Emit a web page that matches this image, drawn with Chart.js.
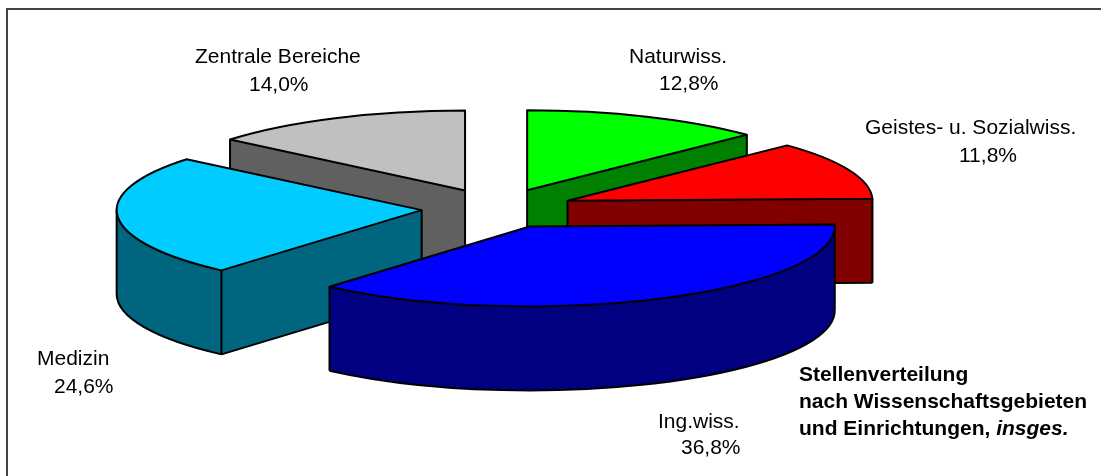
<!DOCTYPE html>
<html><head><meta charset="utf-8">
<script src="https://cdn.jsdelivr.net/npm/chart.js@4"></script>
<style>html,body{margin:0;padding:0;background:#fff}canvas{display:block}</style>
</head><body><canvas id="c" width="1101" height="476"></canvas>
<script>
const categories = ['Naturwiss.', 'Geistes- u. Sozialwiss.', 'Ing.wiss.', 'Medizin', 'Zentrale Bereiche'];
const values = [12.8, 11.8, 36.8, 24.6, 14.0];
const valueLabels = ['12,8%', '11,8%', '36,8%', '24,6%', '14,0%'];
const topColors = ['#00FF00', '#FF0000', '#0000FF', '#00CCFF', '#C0C0C0'];
const sideColors = ['#008000', '#800000', '#000080', '#006680', '#606060'];
const titleLines = ['Stellenverteilung', 'nach Wissenschaftsgebieten', 'und Einrichtungen, '];
const titleItalic = 'insges.';

// layout
const paintOrder = [4, 0, 1, 3, 2];
const explode = 76, radiusPx = 305, squash = 0.262, depth = 84;
const centerX = 497.4, centerY = 208.5;
const catPos = [[629, 63], [865, 134], [658, 428], [37, 365], [195, 63]];
const valPos = [[659, 90], [959, 162], [681, 454], [54, 393], [249, 91]];
const titlePos = [799, 381, 27];
const FONT = '"Liberation Sans", Arial, sans-serif';

const pseudo3d = {
  id: 'pseudo3d',
  beforeDraw(chart) {
    const c = chart.ctx;
    c.save();
    c.fillStyle = '#fff';
    c.fillRect(0, 0, chart.width, chart.height);
    c.strokeStyle = '#444';
    c.lineWidth = 2;
    c.beginPath();
    c.moveTo(7, chart.height);
    c.lineTo(7, 9);
    c.lineTo(chart.width, 9);
    c.stroke();
    c.restore();
  },
  beforeDatasetsDraw(chart) {
    const c = chart.ctx, arcs = chart.getDatasetMeta(0).data;
    paintOrder.forEach(i => drawSlice(c, arcs[i], i));
    return false;
  },
  afterDraw(chart) { drawTexts(chart.ctx); }
};

function drawSlice(c, arc, i) {
  const a0 = arc.startAngle, a1 = arc.endAngle, r = arc.outerRadius;
  const mid = (a0 + a1) / 2, off = arc.options.offset / 4;
  const ax = centerX + Math.cos(mid) * off;
  const ay = centerY + Math.sin(mid) * off * squash;
  const ry = r * squash;
  const px = a => ax + Math.cos(a) * r, py = a => ay + Math.sin(a) * ry;
  const lines = [], verts = [];

  c.save();
  c.lineWidth = 2;
  c.lineJoin = 'round';
  c.fillStyle = sideColors[i];

  // radial faces turned towards the viewer
  const startFront = Math.cos(a0) < 0;
  const endFront = Math.cos(a1) > 0;
  [[a0, startFront], [a1, endFront]].forEach(([a, front]) => {
    if (!front) return;
    c.beginPath();
    c.moveTo(ax, ay);
    c.lineTo(px(a), py(a));
    c.lineTo(px(a), py(a) + depth);
    c.lineTo(ax, ay + depth);
    c.closePath();
    c.fill();
    lines.push([ax, ay + depth, px(a), py(a) + depth]);
    verts.push([ax, ay], [px(a), py(a)]);
  });

  // curved outer wall: canvas angles run from -PI/2 to 3PI/2; the front half is 0..PI
  const lo = Math.max(a0, 0), hi = Math.min(a1, Math.PI);
  let wall = null;
  if (hi > lo) {
    wall = [lo, hi];
    c.beginPath();
    c.ellipse(ax, ay, r, ry, 0, lo, hi);
    c.ellipse(ax, ay + depth, r, ry, 0, hi, lo, true);
    c.closePath();
    c.fill();
    verts.push([px(lo), py(lo)], [px(hi), py(hi)]);
  }

  c.strokeStyle = '#000';
  c.beginPath();
  lines.forEach(l => { c.moveTo(l[0], l[1]); c.lineTo(l[2], l[3]); });
  verts.forEach(v => { c.moveTo(v[0], v[1]); c.lineTo(v[0], v[1] + depth); });
  c.stroke();
  if (wall) {
    c.beginPath();
    c.ellipse(ax, ay + depth, r, ry, 0, wall[0], wall[1]);
    c.stroke();
  }

  // top face: the library's own arc, flattened. Arc.draw widens the radius by
  // offset/4 * (1 - sin(sweep)), so that growth is taken out for the call.
  const fix = 1 - Math.sin(Math.min(Math.PI, a1 - a0));
  arc.outerRadius = r - off * fix;
  c.save();
  c.translate(centerX, centerY);
  c.scale(1, squash);
  c.translate(-arc.x, -arc.y);
  arc.draw(c);
  c.restore();
  arc.outerRadius = r;

  c.beginPath();
  c.moveTo(ax, ay);
  c.ellipse(ax, ay, r, ry, 0, a0, a1);
  c.closePath();
  c.fillStyle = arc.options.backgroundColor;
  c.fill();
  c.strokeStyle = '#000';
  c.stroke();
  c.restore();
}

function drawTexts(c) {
  c.save();
  c.fillStyle = '#000';
  c.textBaseline = 'alphabetic';
  c.textAlign = 'left';
  c.font = '21px ' + FONT;
  categories.forEach((t, i) => {
    c.fillText(t, catPos[i][0], catPos[i][1]);
    c.fillText(valueLabels[i], valPos[i][0], valPos[i][1]);
  });
  c.font = 'bold 21px ' + FONT;
  titleLines.forEach((t, i) => c.fillText(t, titlePos[0], titlePos[1] + i * titlePos[2]));
  const w = c.measureText(titleLines[2]).width;
  c.font = 'italic bold 21px ' + FONT;
  c.fillText(titleItalic, titlePos[0] + w, titlePos[1] + 2 * titlePos[2]);
  c.restore();
}

new Chart(document.getElementById('c'), {
  type: 'pie',
  data: {
    labels: categories,
    datasets: [{
      data: values,
      backgroundColor: topColors,
      borderWidth: 0,
      offset: explode * 4,
      clip: false
    }]
  },
  options: {
    responsive: false,
    animation: false,
    radius: radiusPx,
    plugins: { legend: { display: false }, tooltip: { enabled: false }, title: { display: false } }
  },
  plugins: [pseudo3d]
});
</script>
</body></html>
